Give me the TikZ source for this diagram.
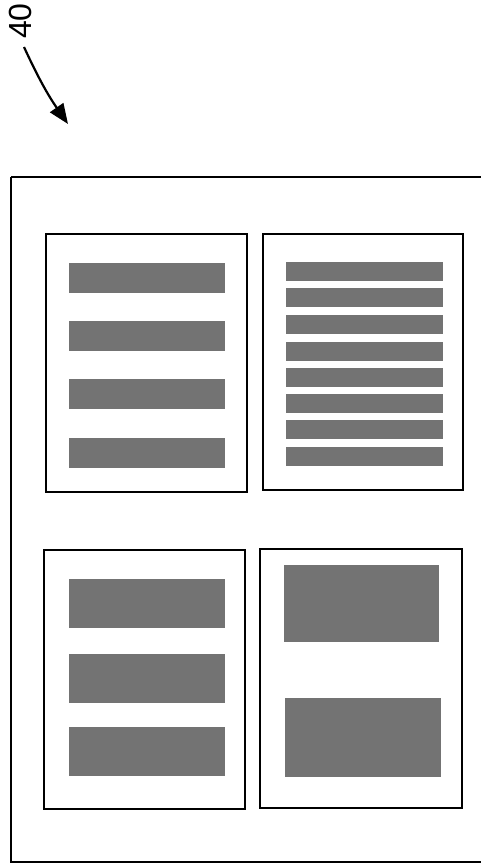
\documentclass[tikz,border=0pt]{standalone}
\usepackage{fontspec}
\setmainfont{Liberation Sans}
\usetikzlibrary{arrows.meta}
\tikzset{
  frame/.style={draw=black,line width=2pt},
  bar/.style={fill=black!55,draw=none},
  lbl/.style={font=\fontsize{32}{32}\selectfont,inner sep=0pt,rotate=90}
}
\begin{document}
\begin{tikzpicture}[x=1pt,y=-1pt]
\useasboundingbox (0,0) rectangle (481,864);
% label and arrow
\node[lbl] (n40) at (20,21) {40};
\coordinate (tip) at (68,124);
\draw[line width=2.2pt,-{Triangle[length=20pt,width=16pt]}] (24,47) to[bend right=5] (tip);
% outer frame
\draw[frame] (11,177) -- (495,177) (11,177) -- (11,862) -- (495,862);
% box 1
\draw[frame] (46,234) rectangle (247,492);
\foreach \y in {263,321,379,438}
  \fill[bar] (69,\y) rectangle (225,\y+30);
% box 2
\draw[frame] (263,234) rectangle (463,490);
\foreach \y in {262,288,315,342,368,394,420,447}
  \fill[bar] (286,\y) rectangle (443,\y+19);
% box 3
\draw[frame] (44,550) rectangle (245,809);
\foreach \y in {579,654,727}
  \fill[bar] (69,\y) rectangle (225,\y+49);
% box 4
\draw[frame] (260,549) rectangle (462,808);
\fill[bar] (284,565) rectangle (439,642);
\fill[bar] (285,698) rectangle (441,777);
\end{tikzpicture}
\end{document}
